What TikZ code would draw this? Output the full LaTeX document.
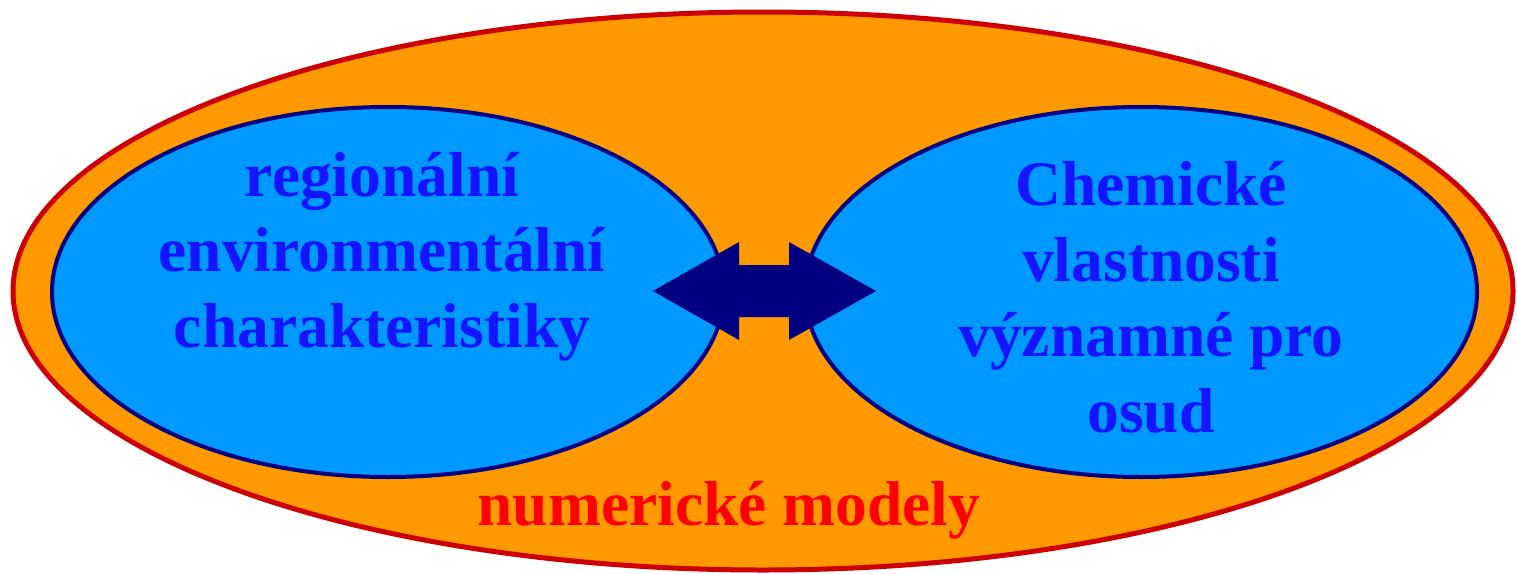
\documentclass[tikz,border=0pt]{standalone}
\usepackage{fontspec}
\setmainfont{Liberation Serif}
\usetikzlibrary{shapes.geometric}
\definecolor{orng}{HTML}{FF9900}
\definecolor{skyb}{HTML}{0099FF}
\definecolor{navyc}{HTML}{000080}
\definecolor{redline}{HTML}{CC0000}
\definecolor{txtblue}{HTML}{1414FF}
\tikzset{
  outerell/.style={ellipse, draw=redline, fill=orng, line width=5pt, inner sep=0pt},
  innerell/.style={ellipse, draw=navyc, fill=skyb, line width=4pt, inner sep=0pt},
  lbl/.style={text=txtblue, font=\fontsize{63.5}{75.5}\selectfont\bfseries, align=center, inner sep=0pt},
}
\begin{document}
\begin{tikzpicture}[x=1pt,y=-1pt]
\useasboundingbox (0,0) rectangle (1517,573);
\node[outerell, minimum width=1500pt, minimum height=558pt] (outer) at (763,291) {};
\node[innerell, minimum width=672pt, minimum height=370pt] (left) at (388,292) {};
\node[innerell, minimum width=672pt, minimum height=370pt] (right) at (1141,292) {};
\coordinate (ac) at (764.5,291);
\fill[navyc] ([xshift=-111.5pt]ac) -- ([xshift=-25.5pt,yshift=-49pt]ac) -- ([xshift=-25.5pt,yshift=-26pt]ac)
  -- ([xshift=24.5pt,yshift=-26pt]ac) -- ([xshift=24.5pt,yshift=-49pt]ac) -- ([xshift=111.5pt]ac)
  -- ([xshift=24.5pt,yshift=49pt]ac) -- ([xshift=24.5pt,yshift=26pt]ac) -- ([xshift=-25.5pt,yshift=26pt]ac)
  -- ([xshift=-25.5pt,yshift=49pt]ac) -- cycle;
\node[lbl, anchor=base] (ltxt) at (382,347) {regionální\\environmentální\\charakteristiky};
\node[lbl, anchor=base] (rtxt) at (1151,432) {Chemické\\vlastnosti\\významné pro\\osud};
\node[lbl, text=red, anchor=base] (bot) at (729,525) {numerické modely};
\end{tikzpicture}
\end{document}
